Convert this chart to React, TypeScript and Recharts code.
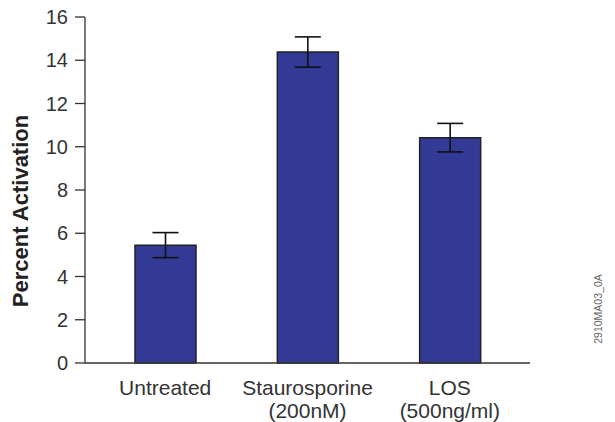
import React from 'react';
import { BarChart, Bar, XAxis, YAxis, ErrorBar, Label } from 'recharts';

const categoryLine1 = ['Untreated', 'Staurosporine', 'LOS'];
const categoryLine2 = ['', '(200nM)', '(500ng/ml)'];
const values = [5.45, 14.38, 10.42];
const errors = [0.58, 0.7, 0.66];
const yTicks = [0, 2, 4, 6, 8, 10, 12, 14, 16];
const yLabel = 'Percent Activation';
const figureCode = '2910MA03_0A';

const data = categoryLine1.map((c, i) => ({
  name: c,
  line2: categoryLine2[i],
  value: values[i],
  err: errors[i],
}));

const FONT = '"Liberation Sans", Arial, Helvetica, sans-serif';
const TEXT = '#333';

const XTick = (props: any) => {
  const { x, y, payload, index } = props;
  const l2 = categoryLine2[index] ?? data.find((d) => d.name === payload.value)?.line2;
  return (
    <g>
      <text x={x} y={y + 32} textAnchor="middle" fill={TEXT} fontSize={21} fontFamily={FONT}>
        {payload.value}
      </text>
      {l2 ? (
        <text x={x} y={y + 55} textAnchor="middle" fill={TEXT} fontSize={21} fontFamily={FONT}>
          {l2}
        </text>
      ) : null}
    </g>
  );
};

const YLabel = (props: any) => {
  const { viewBox } = props;
  const cy = viewBox.y + viewBox.height / 2 + 21;
  const cx = 20;
  return (
    <text
      x={cx}
      y={cy}
      transform={`rotate(-90, ${cx}, ${cy})`}
      textAnchor="middle"
      dominantBaseline="central"
      fill="#222"
      fontSize={22}
      fontWeight="bold"
      fontFamily='"Liberation Sans Narrow", "Liberation Sans", Arial, sans-serif'
    >
      {yLabel}
    </text>
  );
};

export default function App() {
  return (
    <div style={{ position: 'absolute', left: 0, top: 0, width: 615, height: 422, background: '#fff' }}>
      <BarChart
        width={615}
        height={422}
        data={data}
        margin={{ top: 17, right: 85, bottom: 0, left: 25 }}
        barSize={61}
      >
        <XAxis
          dataKey="name"
          height={59}
          padding={{ left: 9, right: 9 }}
          tickLine={false}
          tickSize={0}
          tickMargin={0}
          axisLine={{ stroke: '#333', strokeWidth: 1.3 }}
          tick={<XTick />}
          interval={0}
        />
        <YAxis
          width={60}
          domain={[0, 16]}
          ticks={yTicks}
          tickSize={10}
          tickMargin={7}
          axisLine={{ stroke: '#333', strokeWidth: 1.3 }}
          tickLine={{ stroke: '#333', strokeWidth: 1.3 }}
          tick={{ fill: TEXT, fontSize: 20, fontFamily: FONT }}
          interval={0}
        >
          <Label content={<YLabel />} />
        </YAxis>
        <Bar dataKey="value" fill="#333a96" stroke="#222" strokeWidth={1.5} isAnimationActive={false}>
          <ErrorBar dataKey="err" width={13} stroke="#111" strokeWidth={1.6} direction="y" />
        </Bar>
      </BarChart>
      <svg width={615} height={422} style={{ position: 'absolute', left: 0, top: 0, pointerEvents: 'none' }}>
        <text
          x={598}
          y={309}
          transform="rotate(-90, 598, 309)"
          textAnchor="middle"
          dominantBaseline="central"
          fill="#666"
          fontSize={10.5}
          fontFamily={FONT}
        >
          {figureCode}
        </text>
      </svg>
    </div>
  );
}
